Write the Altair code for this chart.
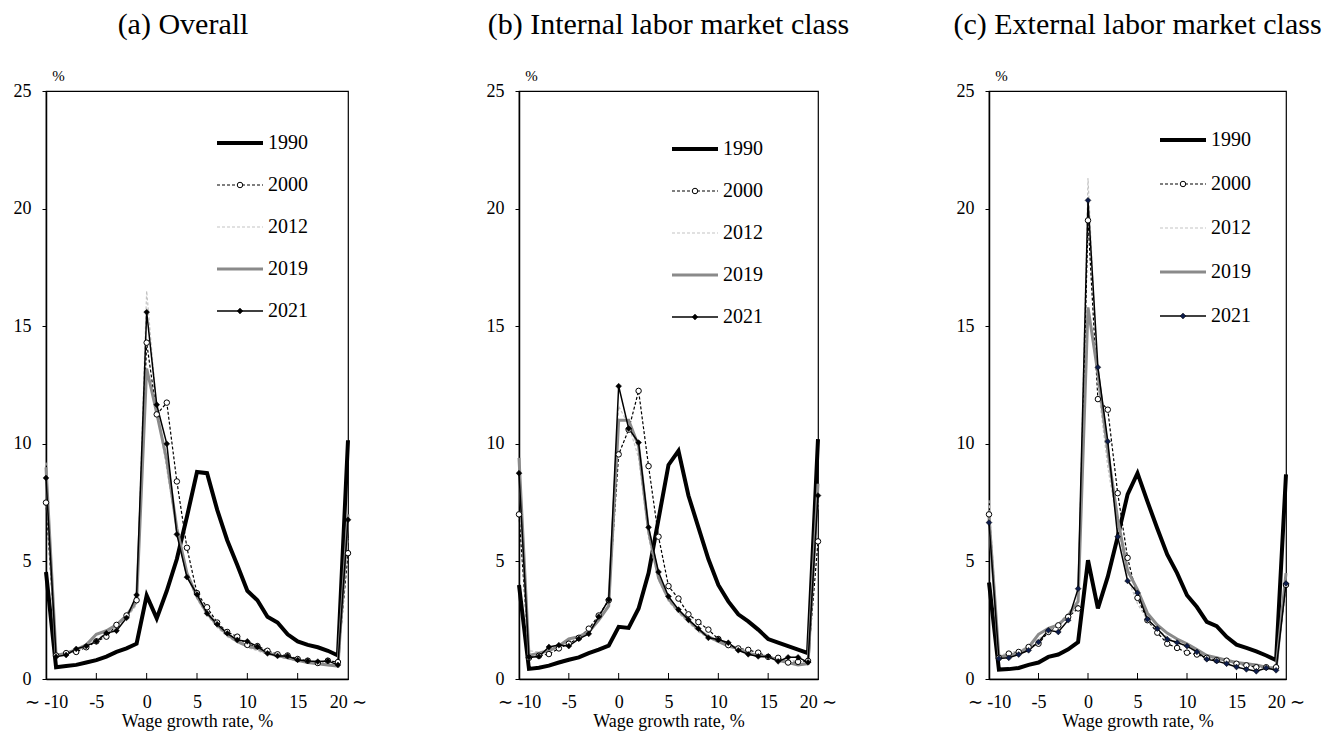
import altair as alt
import pandas as pd

# Wage growth rate bins (%), open-ended at both ends
rates = list(range(-10, 21))
years = ["1990", "2000", "2012", "2019", "2021"]
x_ticks = [-10, -5, 0, 5, 10, 15, 20]
y_ticks = [0, 5, 10, 15, 20, 25]
inner_ticks = [-5, 0, 5, 10, 15]

# (a) Overall
overall_1990 = [4.55, 0.5, 0.55, 0.6, 0.7, 0.8, 0.95, 1.15, 1.3, 1.5, 3.55, 2.58, 3.75, 5.1, 6.9, 8.8,
                8.75, 7.2, 5.9, 4.85, 3.75, 3.35, 2.65, 2.4, 1.9, 1.6, 1.45, 1.35, 1.2, 1.0, 10.15]
overall_2000 = [7.5, 1.0, 1.1, 1.15, 1.35, 1.6, 1.8, 2.3, 2.7, 3.35, 14.3, 11.25, 11.75, 8.4, 5.58, 3.65,
                3.05, 2.4, 2.0, 1.8, 1.45, 1.4, 1.2, 1.05, 1.0, 0.85, 0.78, 0.68, 0.78, 0.72, 5.35]
overall_2012 = [9.2, 1.05, 1.1, 1.2, 1.4, 1.7, 1.95, 2.2, 2.6, 3.15, 16.5, 11.5, 8.9, 6.3, 4.4, 3.4,
                2.7, 2.2, 1.8, 1.55, 1.35, 1.2, 1.05, 0.95, 0.85, 0.75, 0.7, 0.62, 0.58, 0.52, 6.0]
overall_2019 = [9.0, 1.0, 1.1, 1.25, 1.45, 1.9, 2.05, 2.3, 2.7, 3.3, 13.2, 11.3, 9.3, 6.4, 4.5, 3.5,
                2.8, 2.3, 1.9, 1.6, 1.4, 1.3, 1.1, 1.0, 0.9, 0.8, 0.7, 0.65, 0.6, 0.55, 7.0]
overall_2021 = [8.55, 0.95, 1.02, 1.28, 1.4, 1.6, 1.95, 2.05, 2.6, 3.57, 15.6, 11.66, 10.0, 6.15, 4.33, 3.6,
                2.79, 2.33, 1.94, 1.66, 1.6, 1.38, 1.09, 0.98, 0.98, 0.81, 0.77, 0.74, 0.77, 0.6, 6.77]

# (b) Internal labor market class
internal_1990 = [4.0, 0.43, 0.48, 0.57, 0.7, 0.82, 0.92, 1.1, 1.25, 1.42, 2.22, 2.17, 3.0, 4.5, 6.8, 9.1,
                 9.7, 7.8, 6.45, 5.1, 4.0, 3.3, 2.75, 2.45, 2.1, 1.7, 1.55, 1.4, 1.25, 1.1, 10.2]
internal_2000 = [7.0, 0.9, 0.99, 1.06, 1.3, 1.5, 1.75, 2.14, 2.7, 3.35, 9.55, 10.6, 12.25, 9.05, 6.05, 3.95,
                 3.42, 2.75, 2.42, 2.1, 1.7, 1.44, 1.3, 1.24, 1.12, 0.94, 0.9, 0.7, 0.73, 0.77, 5.85]
internal_2012 = [9.0, 1.2, 1.15, 1.25, 1.4, 1.6, 1.8, 2.1, 2.5, 3.2, 11.6, 10.8, 9.4, 6.0, 4.2, 3.3,
                 2.8, 2.4, 2.0, 1.75, 1.55, 1.4, 1.25, 1.1, 1.0, 0.9, 0.85, 0.8, 0.75, 0.65, 7.5]
internal_2019 = [9.4, 1.0, 1.1, 1.2, 1.4, 1.7, 1.8, 2.0, 2.5, 3.1, 11.0, 11.0, 9.9, 6.3, 4.3, 3.4,
                 2.9, 2.5, 2.1, 1.8, 1.6, 1.4, 1.3, 1.1, 1.0, 0.95, 0.8, 0.7, 0.6, 0.65, 8.3]
internal_2021 = [8.75, 0.92, 0.96, 1.36, 1.44, 1.4, 1.71, 1.92, 2.65, 3.37, 12.45, 10.65, 10.05, 6.45, 4.55, 3.51,
                 2.95, 2.52, 2.14, 1.75, 1.68, 1.54, 1.22, 1.05, 0.96, 0.96, 0.75, 0.92, 0.92, 0.71, 7.8]

# (c) External labor market class
external_1990 = [4.1, 0.4, 0.42, 0.47, 0.6, 0.7, 0.94, 1.04, 1.26, 1.57, 5.05, 3.0, 4.35, 6.05, 7.85, 8.75,
                 7.55, 6.4, 5.3, 4.5, 3.56, 3.06, 2.43, 2.25, 1.79, 1.46, 1.32, 1.17, 1.0, 0.8, 8.7]
external_2000 = [7.0, 0.9, 1.08, 1.15, 1.36, 1.5, 2.0, 2.28, 2.64, 3.0, 19.5, 11.9, 11.45, 7.9, 5.15, 3.45,
                 2.5, 1.97, 1.5, 1.32, 1.12, 1.04, 0.9, 0.8, 0.78, 0.65, 0.58, 0.5, 0.5, 0.5, 4.0]
external_2012 = [7.6, 1.0, 1.1, 1.2, 1.4, 1.7, 2.0, 2.35, 2.8, 3.3, 21.3, 12.5, 9.0, 6.5, 4.3, 3.2,
                 2.5, 2.1, 1.8, 1.55, 1.35, 1.15, 0.95, 0.85, 0.75, 0.65, 0.6, 0.55, 0.5, 0.45, 4.5]
external_2019 = [6.9, 0.95, 1.0, 1.1, 1.35, 1.9, 2.15, 2.3, 2.7, 3.3, 15.8, 13.0, 9.7, 6.8, 4.6, 3.8,
                 2.8, 2.3, 1.95, 1.7, 1.5, 1.25, 1.0, 0.9, 0.8, 0.7, 0.65, 0.6, 0.5, 0.45, 4.5]
external_2021 = [6.65, 0.87, 0.9, 1.04, 1.22, 1.57, 2.07, 2.0, 2.5, 3.84, 20.35, 13.25, 10.1, 6.05, 4.17, 3.66,
                 2.54, 2.14, 1.69, 1.55, 1.4, 1.15, 0.84, 0.76, 0.65, 0.51, 0.41, 0.33, 0.47, 0.37, 4.06]

SERIF = "Liberation Serif"
PLOT_H = 588
NB = "\u00a0"

LINE_STYLE = {
    "1990": dict(color="black", strokeWidth=4),
    "2000": dict(color="black", strokeWidth=1.2, strokeDash=[3, 2]),
    "2012": dict(color="#c4c4c4", strokeWidth=1.2, strokeDash=[3, 2]),
    "2019": dict(color="#8a8a8a", strokeWidth=3),
    "2021": dict(color="black", strokeWidth=1.5),
}
CIRCLE = dict(shape="circle", filled=True, fill="white", stroke="black",
              strokeWidth=1, size=30, opacity=1)

x_label_expr = (
    f"datum.value == -10 ? '\u223c{NB}-10{NB}{NB}{NB}{NB}' : "
    f"datum.value == 20 ? '{NB}{NB}{NB}{NB}20{NB}\u223c' : "
    "(datum.value < 0 ? '-' + (-datum.value) : '' + datum.value)"
)

x_axis = alt.Axis(
    values=x_ticks, grid=False, ticks=False, labelExpr=x_label_expr,
    labelFont=SERIF, labelFontSize=18, labelColor="black", labelPadding=14,
    labelFlush=False, labelOverlap=False, labelBound=False,
    domainColor="black", domainWidth=1.5,
    title="Wage growth rate, %", titleFont=SERIF, titleFontSize=18,
    titleFontWeight="normal", titleColor="black", titlePadding=1,
)
y_axis = alt.Axis(
    values=y_ticks, grid=False, tickColor="black", tickSize=4, tickWidth=1,
    labelFont=SERIF, labelFontSize=18, labelColor="black", labelPadding=11,
    domainColor="black", domainWidth=1.5,
    title="%", titleAngle=0, titleX=12, titleY=-11, titleAlign="center",
    titleBaseline="alphabetic", titleFont=SERIF, titleFontSize=15,
    titleFontWeight="normal", titleColor="black",
)


def panel(title, title_dx, series, width, leg_x, leg_y, leg_dy, diamond_fill):
    df = pd.DataFrame(
        [{"rate": r, "share": v, "year": yr}
         for yr, vals in zip(years, series) for r, v in zip(rates, vals)]
    )
    xenc = alt.X("rate:Q", scale=alt.Scale(domain=[-10, 20], nice=False, zero=False), axis=x_axis)
    yenc = alt.Y("share:Q", scale=alt.Scale(domain=[0, 25], nice=False), axis=y_axis)
    diamond = dict(shape="diamond", filled=True, fill=diamond_fill, stroke="black",
                   strokeWidth=0.5, size=34, opacity=1)

    layers = []
    for yr in years:
        layers.append(
            alt.Chart(df).transform_filter(alt.datum.year == yr)
            .mark_line(**LINE_STYLE[yr]).encode(x=xenc, y=yenc)
        )
    layers.append(
        alt.Chart(df).transform_filter(alt.datum.year == "2000")
        .mark_point(**CIRCLE).encode(x=xenc, y=yenc)
    )
    layers.append(
        alt.Chart(df).transform_filter(alt.datum.year == "2021")
        .mark_point(**diamond).encode(x=xenc, y=yenc)
    )
    # inward tick marks on the horizontal axis
    layers.append(
        alt.Chart(pd.DataFrame({"rate": inner_ticks}))
        .mark_rule(color="black", strokeWidth=1)
        .encode(x=xenc, y=alt.value(PLOT_H), y2=alt.value(PLOT_H - 6))
    )
    # legend drawn inside the plot area
    for i, yr in enumerate(years):
        row = pd.DataFrame({"year": [yr]})
        yy = leg_y + i * leg_dy
        layers.append(
            alt.Chart(row).mark_rule(**LINE_STYLE[yr])
            .encode(x=alt.value(leg_x), x2=alt.value(leg_x + 46), y=alt.value(yy))
        )
        if yr == "2000":
            layers.append(alt.Chart(row).mark_point(**CIRCLE)
                          .encode(x=alt.value(leg_x + 23), y=alt.value(yy)))
        if yr == "2021":
            layers.append(alt.Chart(row).mark_point(**diamond)
                          .encode(x=alt.value(leg_x + 23), y=alt.value(yy)))
        layers.append(
            alt.Chart(row).mark_text(align="left", baseline="middle", font=SERIF,
                                     fontSize=20, color="black")
            .encode(x=alt.value(leg_x + 51), y=alt.value(yy), text="year:N")
        )

    return alt.layer(*layers).properties(
        width=width, height=PLOT_H,
        title=alt.TitleParams(text=title, font=SERIF, fontSize=30, fontWeight="normal",
                              color="black", anchor="middle", offset=28, dx=title_dx),
    )


pa = panel("(a) Overall", -14,
           [overall_1990, overall_2000, overall_2012, overall_2019, overall_2021],
           302, 171, 52, 42, "black")
pb = panel("(b) Internal labor market class", 0,
           [internal_1990, internal_2000, internal_2012, internal_2019, internal_2021],
           299, 153, 58, 42, "black")
pc = panel("(c) External labor market class", 0,
           [external_1990, external_2000, external_2012, external_2019, external_2021],
           297, 171, 49, 44, "#0d1c4a")

chart = (
    alt.hconcat(pa, pb, pc, spacing=171, bounds="flush")
    .properties(padding={"left": 12, "top": 9, "right": 5, "bottom": 5}, background="white")
    .configure_view(stroke="black", strokeWidth=1.2)
)

chart.save("out.html", embed_options={"renderer": "svg", "actions": False})
